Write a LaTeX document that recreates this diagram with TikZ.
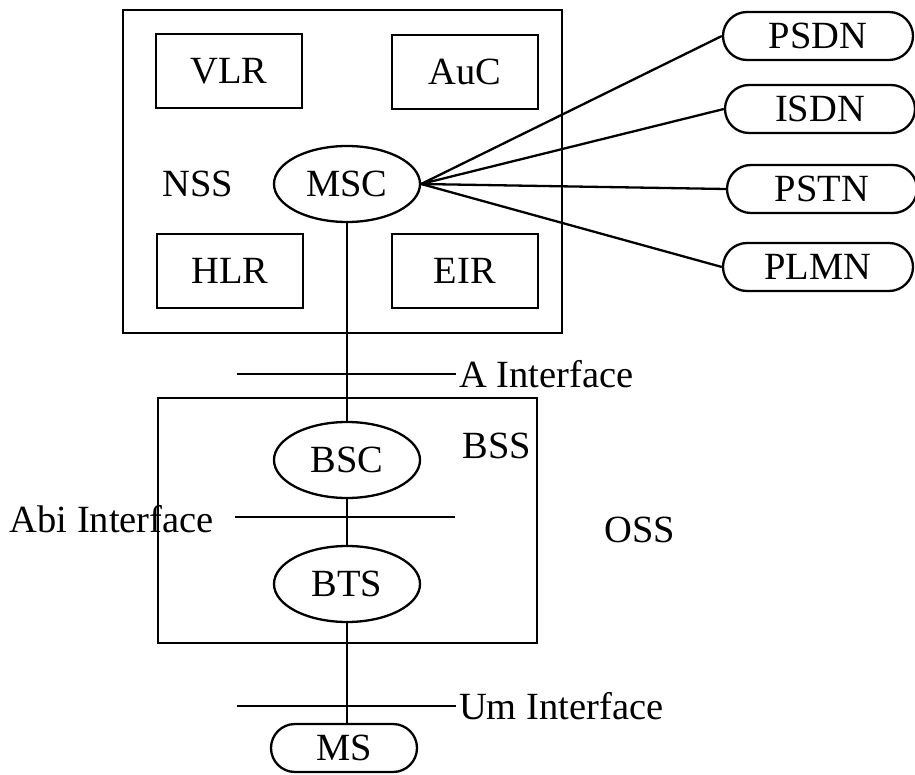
\documentclass[tikz,border=0pt]{standalone}
\usepackage{fontspec}
\setmainfont{Liberation Serif}
\usetikzlibrary{shapes.geometric, positioning}

\begin{document}
\begin{tikzpicture}[
        x=1pt, y=-1pt, line width=2.3pt,
        font=\fontsize{38.5}{42}\selectfont,
        unit/.style={draw, rectangle, minimum width=146pt, minimum height=74pt, inner sep=0pt},
        sub/.style={draw, ellipse, minimum width=146pt, minimum height=76pt, inner sep=0pt},
        net/.style={draw, rounded corners=24pt, minimum width=190pt, minimum height=48pt, inner sep=0pt},
        group/.style={draw, rectangle, inner sep=0pt},
        iface/.style={anchor=west, inner sep=2pt}
    ]
        \useasboundingbox (0,0) rectangle (915,775);

        % subsystems
        \node[group, minimum width=439pt, minimum height=323pt] (nss) at (342.5,171.5) {};
        \node[group, minimum width=379pt, minimum height=245pt] (bss) at (347.5,520.5) {};
        \node at (198,184) (nsslbl) {NSS};
        \node at (497,446) (bsslbl) {BSS};
        \node at (640,530) (osslbl) {OSS};

        % NSS units
        \node[unit] (vlr) at (229,71) {VLR};
        \node[unit] (auc) at (465,72) {AuC};
        \node[unit] (hlr) at (230,271) {HLR};
        \node[unit] (eir) at (465,271) {EIR};
        \node[sub] (msc) at (347,184) {MSC};

        % BSS units
        \node[sub] (bsc) at (347,460) {BSC};
        \node[sub] (bts) at (347,584) {BTS};
        \node[net, minimum width=146pt] (ms) at (344,748) {MS};

        % external networks
        \node[net] (psdn) at (818,36) {PSDN};
        \node[net] (isdn) at (820,109) {ISDN};
        \node[net] (pstn) at (822,189) {PSTN};
        \node[net] (plmn) at (818,267) {PLMN};

        \draw (msc.east) -- (psdn.west);
        \draw (msc.east) -- (isdn.west);
        \draw (msc.east) -- (pstn.west);
        \draw (msc.east) -- (plmn.west);

        \draw (msc) -- (bsc);
        \draw (bsc) -- (bts);
        \draw (bts.south) -- (bts.south |- ms.north);

        % interfaces
        \coordinate (aL) at (237,374);
        \coordinate (aR) at (456,374);
        \coordinate (abiL) at (235,517);
        \coordinate (abiR) at (455,517);
        \coordinate (umL) at (237,706);
        \coordinate (umR) at (456,706);
        \draw (aL) -- (aR) node[iface] (alb) {A Interface};
        \draw (abiL) -- (abiR);
        \node[anchor=east, inner sep=2pt] (abilb) at (217,519) {Abi Interface};
        \draw (umL) -- (umR) node[iface] (umlb) {Um Interface};
    \end{tikzpicture}
\end{document}
